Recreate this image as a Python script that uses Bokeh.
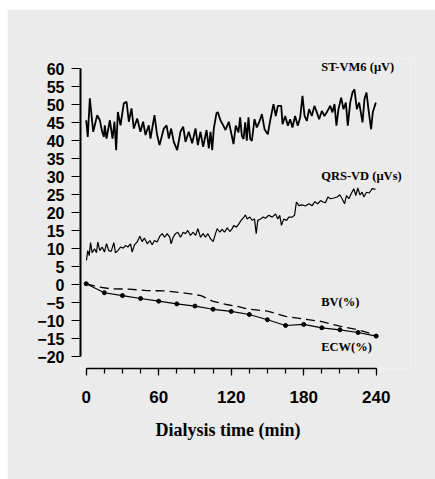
from bokeh.plotting import figure
from bokeh.models import FixedTicker, Range1d, Label, Title
from bokeh.embed import file_html
from bokeh.resources import INLINE

# ---- data ----
st_t = [0, 1.3, 3.0, 5.8, 9.1, 11.3, 13.2, 14.6, 15.4, 16.8, 19.6, 21.8, 23.4, 24.8, 26.2, 28.4,
        31.1, 33.4, 35.3, 37.5, 39.4, 42.2, 44.9, 47.1, 49.1, 51.8, 53.2, 56.5, 58.7, 60.7, 64.2,
        66.5, 68.4, 70.3, 72.5, 75.3, 78.0, 80.3, 82.2, 84.9, 87.7, 90.5, 92.4, 94.6, 96.8, 99.6,
        101.5, 102.9, 104.3, 105.6, 107.8, 108.9, 111.1, 113.4, 115.3, 118.0, 120.5, 121.9, 123.8,
        126.0, 127.4, 128.8, 130.2, 131.6, 132.9, 134.3, 135.7, 137.1, 139.3, 141.2, 143.1, 145.4,
        147.6, 150.3, 152.2, 155.0, 156.9, 158.6, 161.4, 162.5, 164.7, 166.9, 168.8, 170.7, 172.9,
        175.1, 177.1, 179.0, 180.7, 182.6, 184.5, 186.7, 188.9, 190.9, 192.8, 195.0, 197.2, 199.1,
        201.9, 203.8, 205.5, 207.1, 208.8, 211.0, 212.9, 214.9, 216.5, 218.5, 220.4, 222.0, 224.0,
        225.9, 228.7, 230.3, 232.0, 233.6, 235.8, 237.2, 239.7]
st_v = [45.7, 41.1, 51.8, 42.5, 47.1, 45.7, 42.5, 41.1, 44.3, 40.6, 45.7, 40.6, 45.3, 37.4, 48.0, 44.3,
        50.4, 50.8, 45.3, 49.0, 43.4, 46.2, 42.5, 45.3, 41.6, 44.3, 40.6, 47.1, 41.6, 38.8, 43.4,
        44.3, 40.6, 43.4, 39.7, 37.4, 42.5, 43.9, 39.7, 42.5, 39.3, 43.4, 38.8, 42.5, 38.3, 43.0,
        37.9, 42.5, 37.4, 43.4, 47.6, 48.0, 45.7, 44.3, 43.0, 45.3, 41.4, 39.1, 44.2,
        42.3, 46.5, 41.4, 40.5, 45.1, 40.0, 46.5, 40.5, 40.0, 46.0, 43.7, 45.1, 47.4,
        43.2, 41.8, 45.5, 50.2, 46.9, 49.7, 49.7, 44.6, 46.9, 44.2, 46.0, 43.7, 46.9,
        44.2, 46.5, 52.5, 46.9, 45.5, 48.8, 46.9, 49.7, 47.9, 46.0, 48.3, 46.9, 47.9,
        49.7, 47.9, 50.2, 44.2, 48.8, 52.0, 48.8, 50.6, 44.2, 50.6, 53.4, 54.3, 48.8,
        50.6, 45.1, 51.6, 53.4, 48.8, 43.2, 47.9, 50.6]

qrs_t = [0.2, 1.3, 2.5, 3.6, 4.9, 6.9, 8.5, 9.6, 11.3, 13.2, 15.1, 16.8, 18.7, 20.7, 22.9, 24.2,
         26.2, 28.4, 30.6, 32.5, 34.5, 36.7, 38.0, 40.0, 42.2, 44.4, 46.3, 48.2, 50.5, 52.7, 54.6,
         56.5, 58.7, 60.9, 62.9, 64.8, 67.0, 69.2, 70.3, 72.0, 73.9, 75.8, 78.0, 80.3, 82.2, 84.1,
         86.3, 88.5, 90.5, 92.4, 94.6, 96.8, 98.7, 100.7, 102.9, 105.1, 107.0, 108.4, 110.6, 112.5,
         114.5, 116.7, 118.9, 120.8, 122.2, 124.4, 126.3, 128.2, 130.5, 131.8, 133.2, 135.4, 137.4,
         139.3, 140.7, 142.0, 144.3, 146.5, 148.4, 151.1, 153.9, 156.7, 158.6, 160.2, 161.6, 163.5,
         165.8, 167.7, 170.5, 172.4, 174.0, 176.0, 178.7, 181.5, 184.2, 187.0, 189.2, 191.7, 193.9,
         196.1, 198.0, 200.0, 202.2, 204.9, 207.7, 209.9, 211.8, 213.8, 215.4, 217.4, 219.3, 221.5,
         223.1, 224.8, 226.5, 228.4, 229.8, 232.0, 234.2, 236.7, 239.4]
qrs_v = [6.8, 9.5, 8.1, 11.7, 8.9, 10.0, 8.9, 11.9, 9.5, 10.5, 9.1, 11.4, 9.5, 9.3, 11.7, 8.9,
         9.5, 10.5, 10.2, 10.9, 10.5, 11.4, 9.1, 11.1, 11.9, 13.5, 12.0, 13.0, 11.4, 12.3, 11.1,
         12.3, 11.9, 13.5, 14.2, 13.2, 14.2, 13.2, 11.4, 13.2, 14.2, 14.6, 13.2, 14.6, 14.2, 15.1,
         13.7, 14.6, 13.7, 15.6, 13.2, 14.2, 13.2, 14.2, 12.8, 12.0, 14.2, 15.6, 14.6, 15.4,
         14.6, 15.8, 14.8, 15.6, 16.5, 16.0, 16.9, 17.9, 18.8, 19.4, 18.3, 18.8, 17.9,
         18.3, 14.2, 17.9, 18.3, 18.8, 18.5, 19.3, 18.8, 19.7, 18.3, 19.3, 16.5, 18.3,
         17.9, 18.8, 18.8, 19.3, 23.0, 22.0, 22.2, 21.9, 22.5, 22.0, 23.1, 22.5, 23.4,
         23.0, 22.8, 24.4, 23.9, 24.1, 24.4, 25.0, 23.9, 22.5, 24.8, 23.9, 25.3, 26.7,
         24.8, 26.9, 25.0, 25.7, 24.4, 25.7, 25.5, 26.7, 26.5]

bv_t = [0, 10, 20, 35, 50, 65, 80, 95, 105, 115, 125, 135, 150, 165, 180, 195, 210, 225, 240]
bv_v = [0.3, -0.6, -1.1, -1.2, -1.6, -1.7, -2.2, -3.0, -4.6, -5.4, -6.0, -6.8, -7.3, -8.8,
        -9.5, -10.2, -11.5, -12.5, -14.0]

ecw_t = [0, 15, 30, 45, 60, 75, 90, 105, 120, 135, 150, 165, 180, 195, 210, 225, 240]
ecw_v = [0.3, -2.2, -3.0, -3.8, -4.55, -5.3, -5.9, -6.8, -7.4, -8.25, -9.7, -11.3, -11.0,
         -11.95, -12.5, -13.25, -14.25]

y_ticks = [-20, -15, -10, -5, 0, 5, 10, 15, 20, 25, 30, 35, 40, 45, 50, 55, 60]
x_ticks = [0, 60, 120, 180, 240]
x_minor = [0, 15, 30, 45, 60, 75, 90, 105, 120, 135, 150, 165, 180, 195, 210, 225, 240]

series_labels = ["ST-VM6 (\u00b5V)", "QRS-VD (\u00b5Vs)", "BV(%)", "ECW(%)"]
label_y = [60.4, 30.1, -4.8, -17.3]
label_x = 194.5
x_title = "Dialysis time (min)"

BG = "#ebebeb"

p = figure(width=428, height=470, output_backend="svg", toolbar_location=None,
           x_range=Range1d(-4.72, 268.4), y_range=Range1d(-23.25, 62.86),
           min_border_left=73, min_border_top=49, min_border_bottom=111, min_border_right=25)
p.margin = (9, 0, 0, 7)
p.background_fill_color = BG
p.border_fill_color = BG
p.outline_line_color = None
p.xgrid.visible = False
p.ygrid.visible = False

# y axis
ya = p.yaxis[0]
ya.ticker = FixedTicker(ticks=y_ticks)
ya.bounds = (-20, 60)
ya.axis_line_width = 2
ya.axis_line_color = "black"
ya.major_tick_line_color = "black"
ya.major_tick_line_width = 1.2
ya.major_tick_out = 9
ya.major_tick_in = 0
ya.minor_tick_line_color = None
ya.major_label_text_font = "Liberation Sans"
ya.major_label_text_font_style = "bold"
ya.major_label_text_font_size = "16px"
ya.major_label_text_color = "black"
ya.major_label_standoff = 7

# x axis
xa = p.xaxis[0]
xa.ticker = FixedTicker(ticks=x_ticks, minor_ticks=x_minor)
xa.bounds = (0, 240)
xa.axis_line_width = 1.5
xa.axis_line_color = "black"
xa.major_tick_line_color = "black"
xa.major_tick_line_width = 1.2
xa.major_tick_out = 7
xa.major_tick_in = 0
xa.minor_tick_line_color = "black"
xa.minor_tick_line_width = 1.2
xa.minor_tick_out = 5
xa.minor_tick_in = 0
xa.major_label_text_font = "Liberation Sans"
xa.major_label_text_font_style = "bold"
xa.major_label_text_font_size = "17px"
xa.major_label_text_color = "black"
xa.major_label_standoff = 15

# axis title as a below-panel title, positioned under the 0..240 span
p.add_layout(Title(text=x_title, align="left", offset=75, standoff=24,
                   text_font="Liberation Serif", text_font_style="bold",
                   text_font_size="18px", text_color="black"), "below")

# series
p.line(st_t, st_v, line_color="black", line_width=1.8)
p.line(qrs_t, qrs_v, line_color="black", line_width=1.2)
p.line(bv_t, bv_v, line_color="black", line_width=1.3, line_dash="9 5")
p.line(ecw_t, ecw_v, line_color="black", line_width=1.2)
p.scatter(ecw_t, ecw_v, size=4, color="black")

for txt, ly in zip(series_labels, label_y):
    p.add_layout(Label(x=label_x, y=ly, text=txt, text_font="Liberation Serif",
                       text_font_style="bold", text_font_size="12.5px",
                       text_color="black", text_baseline="middle", text_align="left"))

open("out.html", "w").write(file_html(p, INLINE))
